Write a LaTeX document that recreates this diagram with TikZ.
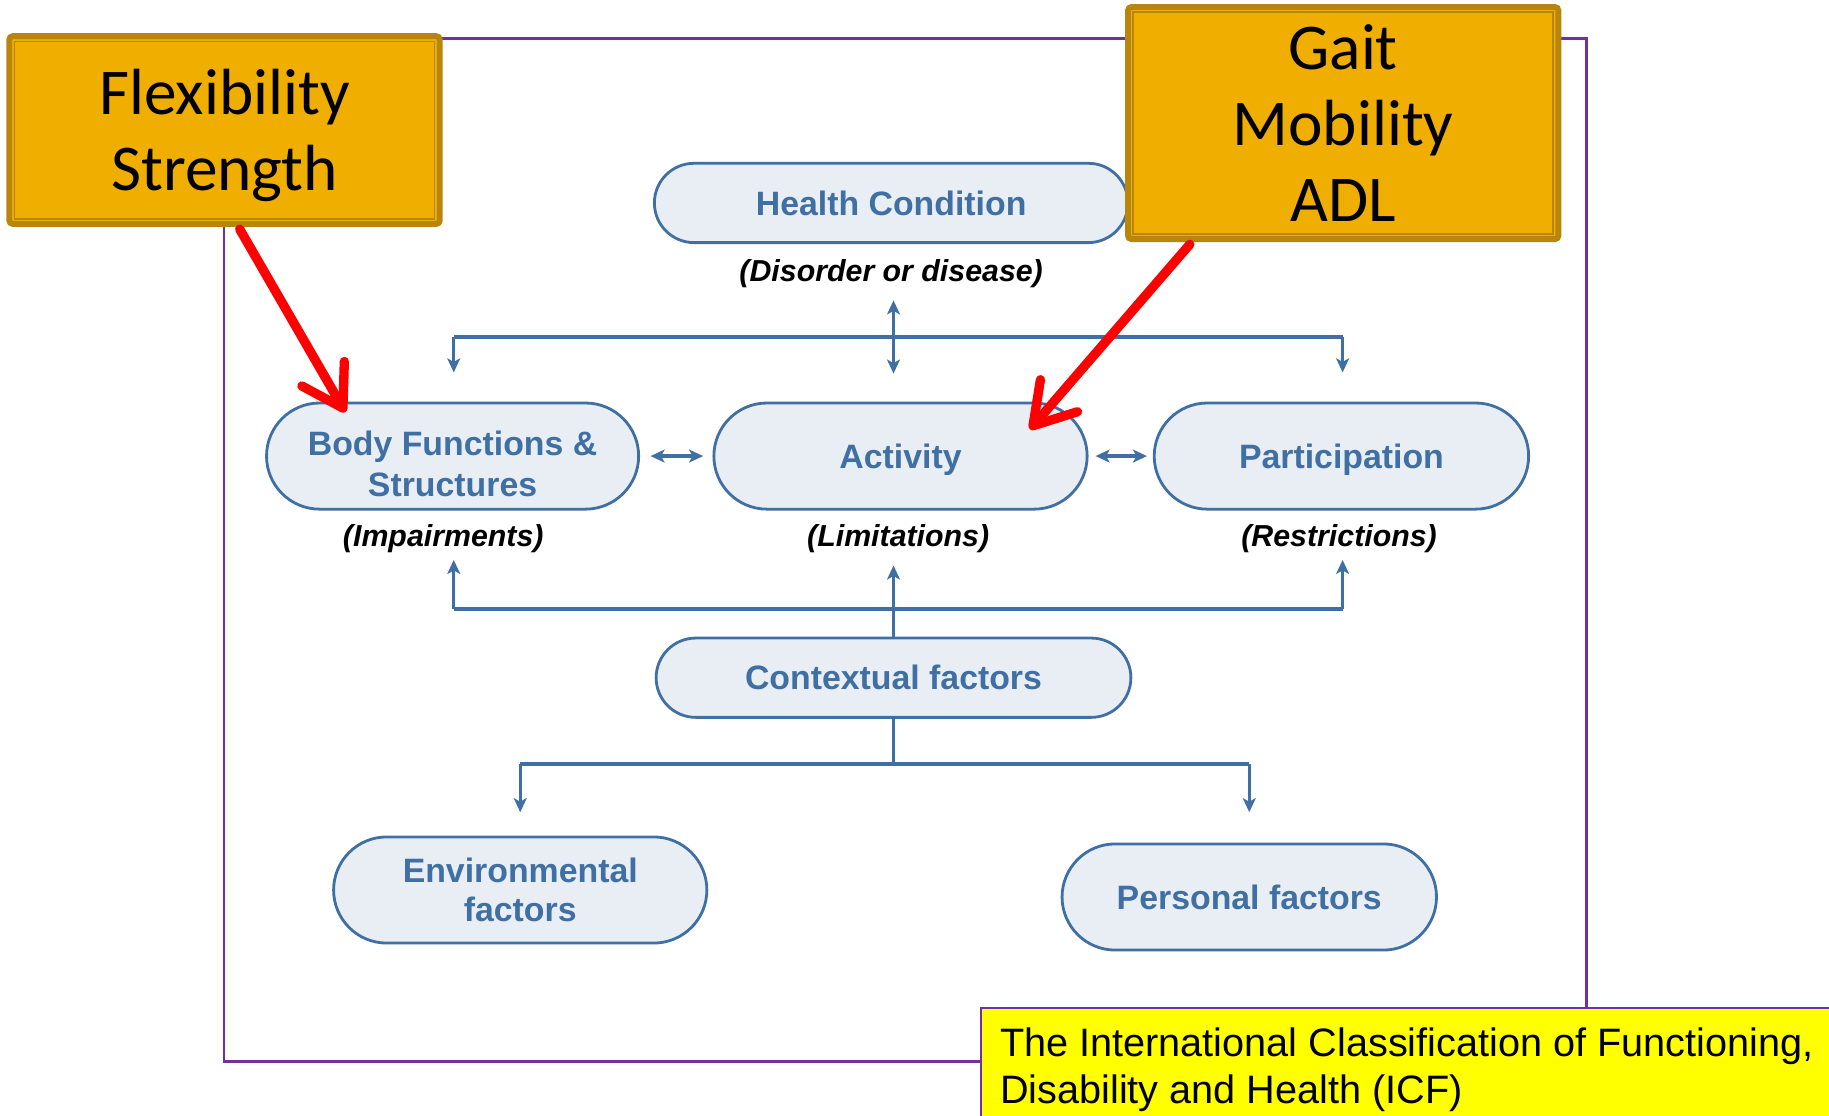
\documentclass[tikz,border=0pt]{standalone}
\usepackage{fontspec}
\setmainfont{Liberation Sans}
\newfontfamily\calib{Carlito}
\usetikzlibrary{arrows.meta,shapes.misc,calc}
\definecolor{pillfill}{HTML}{E8EEF4}
\definecolor{icfblue}{HTML}{3F6FA3}
\definecolor{ofill}{HTML}{F0AE00}
\definecolor{oborder}{HTML}{B8860A}
\definecolor{framepurple}{HTML}{7030A0}
\definecolor{ylw}{HTML}{FFFF00}
\tikzset{
  pill/.style={rounded rectangle, draw=icfblue, line width=1.2pt, fill=pillfill,
     text=icfblue, font=\fontsize{14.5}{16.5}\selectfont\bfseries, align=center, inner sep=0pt},
  single/.style={text depth=0pt},
  ptext/.style={text=icfblue, font=\fontsize{14.5}{17.5}\selectfont\bfseries, align=center, inner sep=0pt},
  lbl/.style={font=\fontsize{13}{15}\selectfont\bfseries\itshape, text=black, inner sep=0pt},
  bline/.style={draw=icfblue, line width=1.4pt},
  barrow/.style={bline, -{Stealth[length=6pt,width=5.5pt,inset=1.5pt]}},
  bdarrow/.style={bline, {Stealth[length=6pt,width=5.5pt,inset=1.5pt]}-{Stealth[length=6pt,width=5.5pt,inset=1.5pt]}},
  obox/.style={draw=oborder, line width=2.5pt, fill=ofill, rounded corners=1.5pt,
     font=\calib\fontsize{28}{32.5}\selectfont, align=center, inner sep=0pt},
  otext/.style={font=\calib\fontsize{28}{32.5}\selectfont, align=center, inner sep=0pt},
  oinner/.style={draw=oborder, line width=0.7pt},
  redarrow/.style={draw=red, line width=4pt, line cap=round, line join=round,
     -{Straight Barb[length=17pt,width=21pt,round]}},
}
\begin{document}
\begin{tikzpicture}[x=0.5pt,y=-0.5pt]
\useasboundingbox (0,0) rectangle (1568,956);
% frame
\draw[framepurple, line width=1pt] (192,33) rectangle (1360,910);

% nodes
\node[pill, single, minimum width=203pt, minimum height=34pt] (hc) at (764,174) {Health Condition};
\node[lbl] (hcl) at (764,235) {(Disorder or disease)};
\node[pill, minimum width=159.5pt, minimum height=45.5pt] (bf) at (388,391) {};
\node[ptext] (bft) at (388,398) {Body Functions \&\\Structures};
\node[pill, single, minimum width=160pt, minimum height=45.5pt] (act) at (772,391) {Activity};
\node[pill, single, minimum width=160.5pt, minimum height=45.5pt] (part) at (1150,391) {Participation};
\node[lbl] (bfl) at (380,462) {(Impairments)};
\node[lbl] (actl) at (770,462) {(Limitations)};
\node[lbl] (partl) at (1148,462) {(Restrictions)};
\node[pill, single, minimum width=203.5pt, minimum height=34pt] (ctx) at (766,581) {Contextual factors};
\node[pill, minimum width=160pt, minimum height=45.5pt] (env) at (446,763) {Environmental\\factors};
\node[pill, single, minimum width=160.5pt, minimum height=45.5pt] (pers) at (1071,769) {Personal factors};

% top bus
\coordinate (tbL) at (389,289);
\coordinate (tbR) at (1151,289);
\coordinate (tbM) at (766,289);
\draw[bline] (tbL) -- (tbR);
\draw[barrow, shorten >=12.5pt] (tbL) -- (tbL |- bf.north);
\draw[barrow, shorten >=12.5pt] (tbR) -- (tbR |- part.north);
\draw[bdarrow, shorten <=5pt, shorten >=12pt] (tbM |- hcl.south) -- (tbM |- act.north);

% horizontal double arrows
\draw[bdarrow, shorten <=4.5pt, shorten >=4pt] (bf.east) -- (act.west);
\draw[bdarrow, shorten <=3pt, shorten >=2.5pt] (act.east) -- (part.west);

% bottom bus
\coordinate (bbL) at (389,522);
\coordinate (bbR) at (1151,522);
\draw[bline] (bbL) -- (bbR);
\draw[barrow] (bbL) -- ++(0,-42);
\draw[barrow] (bbR) -- ++(0,-42);
\draw[barrow] (ctx.north) -- ++(0,-61);

% lower bus
\coordinate (lbM) at (766,655);
\coordinate (lbL) at (446,655);
\coordinate (lbR) at (1071,655);
\draw[bline] (ctx.south) -- (lbM);
\draw[bline] (lbL) -- (lbR);
\draw[barrow, shorten >=10pt] (lbL) -- (lbL |- env.north);
\draw[barrow, shorten >=13pt] (lbR) -- (lbR |- pers.north);

% orange boxes
\node[obox, minimum width=184.5pt, minimum height=80.5pt] (fs) at (192.5,111.5) {};
\node[otext] (fst) at (192.5,116) {Flexibility\\Strength};
\draw[oinner] ([shift={(3.5pt,-3.5pt)}]fs.north west) rectangle ([shift={(-3.5pt,3.5pt)}]fs.south east);
\node[obox, minimum width=184.5pt, minimum height=99.5pt] (gm) at (1151.5,105.5) {Gait\\Mobility\\ADL};
\draw[oinner] ([shift={(3.5pt,-3.5pt)}]gm.north west) rectangle ([shift={(-3.5pt,3.5pt)}]gm.south east);

% red arrows
\draw[redarrow] ([xshift=6.5pt,yshift=-1pt]fs.south) -- ([xshift=-46pt,yshift=-4.5pt]bf.north);
\draw[redarrow] ([xshift=-65.75pt,yshift=-1pt]gm.south) -- ([xshift=55.5pt,yshift=11.5pt]act.center);

% caption box
\draw[framepurple, line width=1pt, fill=ylw] (841,864) rectangle (1600,1000);
\node[anchor=west, align=left, inner sep=0pt, font=\fontsize{17}{20}\selectfont] (cap) at (857,917)
  {The International Classification of Functioning,\\Disability and Health (ICF)};
\end{tikzpicture}
\end{document}
